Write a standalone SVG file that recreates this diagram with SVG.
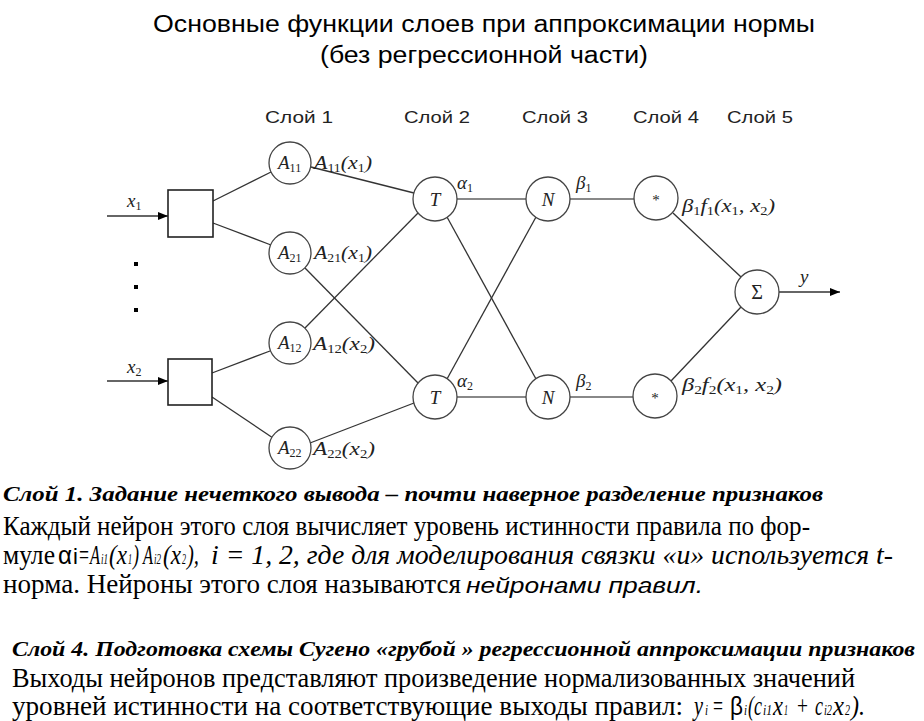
<svg xmlns="http://www.w3.org/2000/svg" width="924" height="721" viewBox="0 0 924 721">
<defs>
<marker id="arr" viewBox="0 0 10 10" refX="10" refY="5" markerWidth="10" markerHeight="10" markerUnits="userSpaceOnUse" orient="auto">
<path d="M0,1 L10,5 L0,9 z" fill="#000"/>
</marker>
</defs>
<style>
.title{font-family:"Liberation Sans",Arial,sans-serif;font-size:23px;fill:#000}
.layer{font-family:"Liberation Sans",Arial,sans-serif;font-size:17px;fill:#222}
.math{font-family:"Liberation Serif","Times New Roman",serif;font-style:italic;font-size:19px;fill:#222}
.sub{font-size:12px;font-style:normal}
.node circle{fill:#fff;stroke:#444;stroke-width:1.3}
.node rect{fill:#fff;stroke:#222;stroke-width:1.6}
.edge{stroke:#333;stroke-width:1.3;fill:none}
.hedge{stroke:#888;stroke-width:2.2;fill:none}
.reg{font-family:"Liberation Serif","Times New Roman",serif;font-size:27px;fill:#000}
.ital{font-family:"Liberation Serif","Times New Roman",serif;font-style:italic;font-size:27px;fill:#000}
.small{font-family:"Liberation Serif","Times New Roman",serif;font-style:italic;font-size:14px;fill:#000}
.bi{font-family:"Liberation Serif","Times New Roman",serif;font-style:italic;font-weight:bold;font-size:22px;fill:#000}
.gr{font-family:"Liberation Sans",Arial,sans-serif;font-size:26px;fill:#000}
.gri{font-family:"Liberation Sans",Arial,sans-serif;font-style:italic;font-size:22px;fill:#000}
</style>
<rect width="924" height="721" fill="#fff"/>

<g id="title">
<text class="title" x="153" y="32" textLength="662" lengthAdjust="spacingAndGlyphs">Основные функции слоев при аппроксимации нормы</text>
<text class="title" x="320" y="63" textLength="328" lengthAdjust="spacingAndGlyphs">(без регрессионной части)</text>
</g>

<g id="layer-labels">
<text class="layer" x="265" y="123" textLength="68" lengthAdjust="spacingAndGlyphs">Слой 1</text>
<text class="layer" x="404" y="123" textLength="66" lengthAdjust="spacingAndGlyphs">Слой 2</text>
<text class="layer" x="522" y="123" textLength="66" lengthAdjust="spacingAndGlyphs">Слой 3</text>
<text class="layer" x="633" y="123" textLength="66" lengthAdjust="spacingAndGlyphs">Слой 4</text>
<text class="layer" x="727" y="123" textLength="66" lengthAdjust="spacingAndGlyphs">Слой 5</text>
</g>

<g id="connectors">
<line class="edge" x1="107" y1="216" x2="168" y2="216" marker-end="url(#arr)"/>
<line class="edge" x1="107" y1="381" x2="168" y2="381" marker-end="url(#arr)"/>
<line class="edge" x1="213" y1="201" x2="271" y2="172"/>
<line class="edge" x1="213" y1="223" x2="271" y2="245"/>
<line class="edge" x1="212" y1="373" x2="270" y2="351"/>
<line class="edge" x1="212" y1="397" x2="273" y2="438"/>
<line class="edge" x1="311" y1="167" x2="414" y2="193"/>
<line class="edge" x1="305" y1="268" x2="418" y2="383"/>
<line class="edge" x1="305" y1="328" x2="418" y2="213"/>
<line class="edge" x1="310" y1="443" x2="414" y2="403"/>
<line class="hedge" x1="457" y1="199" x2="526" y2="199"/>
<line class="hedge" x1="457" y1="397" x2="526" y2="397"/>
<line class="edge" x1="447" y1="217" x2="536" y2="379"/>
<line class="edge" x1="447" y1="379" x2="536" y2="217"/>
<line class="hedge" x1="570" y1="199" x2="634" y2="199"/>
<line class="hedge" x1="570" y1="397" x2="633" y2="397"/>
<line class="edge" x1="673" y1="213" x2="741" y2="277"/>
<line class="edge" x1="671" y1="381" x2="741" y2="307"/>
<line class="edge" x1="779" y1="292" x2="840" y2="292" marker-end="url(#arr)"/>
</g>

<g id="edge-labels">
<text class="math" x="127" y="207">x<tspan class="sub" dy="3">1</tspan></text>
<text class="math" x="127" y="373">x<tspan class="sub" dy="3">2</tspan></text>
<text class="math" x="314" y="169" textLength="58" lengthAdjust="spacingAndGlyphs">A<tspan class="sub" dy="3">11</tspan><tspan dy="-3">(x</tspan><tspan class="sub" dy="3">1</tspan><tspan dy="-3">)</tspan></text>
<text class="math" x="314" y="259" textLength="58" lengthAdjust="spacingAndGlyphs">A<tspan class="sub" dy="3">21</tspan><tspan dy="-3">(x</tspan><tspan class="sub" dy="3">1</tspan><tspan dy="-3">)</tspan></text>
<text class="math" x="313" y="350" textLength="62" lengthAdjust="spacingAndGlyphs">A<tspan class="sub" dy="3">12</tspan><tspan dy="-3">(x</tspan><tspan class="sub" dy="3">2</tspan><tspan dy="-3">)</tspan></text>
<text class="math" x="313" y="455" textLength="62" lengthAdjust="spacingAndGlyphs">A<tspan class="sub" dy="3">22</tspan><tspan dy="-3">(x</tspan><tspan class="sub" dy="3">2</tspan><tspan dy="-3">)</tspan></text>
<text class="math" x="457" y="189">α<tspan class="sub" dy="3">1</tspan></text>
<text class="math" x="457" y="387">α<tspan class="sub" dy="3">2</tspan></text>
<text class="math" x="576" y="189">β<tspan class="sub" dy="3">1</tspan></text>
<text class="math" x="576" y="387">β<tspan class="sub" dy="3">2</tspan></text>
<text class="math" x="682" y="212" textLength="93" lengthAdjust="spacingAndGlyphs">β<tspan class="sub" dy="3">1</tspan><tspan dy="-3">f</tspan><tspan class="sub" dy="3">1</tspan><tspan dy="-3">(x</tspan><tspan class="sub" dy="3">1</tspan><tspan dy="-3">, x</tspan><tspan class="sub" dy="3">2</tspan><tspan dy="-3">)</tspan></text>
<text class="math" x="682" y="391" textLength="100" lengthAdjust="spacingAndGlyphs">β<tspan class="sub" dy="3">2</tspan><tspan dy="-3">f</tspan><tspan class="sub" dy="3">2</tspan><tspan dy="-3">(x</tspan><tspan class="sub" dy="3">1</tspan><tspan dy="-3">, x</tspan><tspan class="sub" dy="3">2</tspan><tspan dy="-3">)</tspan></text>
<text class="math" x="800" y="283">y</text>
</g>

<g id="dots" fill="#000">
<rect x="134" y="262" width="4" height="4"/>
<rect x="134" y="285" width="4" height="4"/>
<rect x="134" y="308" width="4" height="4"/>
</g>

<g id="in1" class="node"><rect x="168" y="190" width="45" height="47"/></g>
<g id="in2" class="node"><rect x="168" y="359" width="44" height="46"/></g>

<g id="A11" class="node"><circle cx="290" cy="163" r="21"/><text class="math" x="278" y="169">A<tspan class="sub" dy="3">11</tspan></text></g>
<g id="A21" class="node"><circle cx="290" cy="253" r="21"/><text class="math" x="278" y="259">A<tspan class="sub" dy="3">21</tspan></text></g>
<g id="A12" class="node"><circle cx="290" cy="343" r="21"/><text class="math" x="278" y="349">A<tspan class="sub" dy="3">12</tspan></text></g>
<g id="A22" class="node"><circle cx="290" cy="448" r="21"/><text class="math" x="278" y="454">A<tspan class="sub" dy="3">22</tspan></text></g>

<g id="T1" class="node"><circle cx="435" cy="199" r="22"/><text class="math" x="435" y="206" text-anchor="middle" font-size="21">T</text></g>
<g id="T2" class="node"><circle cx="435" cy="397" r="22"/><text class="math" x="435" y="404" text-anchor="middle" font-size="21">T</text></g>
<g id="N1" class="node"><circle cx="548" cy="199" r="22"/><text class="math" x="548" y="206" text-anchor="middle" font-size="21">N</text></g>
<g id="N2" class="node"><circle cx="548" cy="397" r="22"/><text class="math" x="548" y="404" text-anchor="middle" font-size="21">N</text></g>
<g id="P1" class="node"><circle cx="656" cy="198" r="22"/><text class="math" x="656" y="205" text-anchor="middle" style="font-style:normal;font-size:15px">*</text></g>
<g id="P2" class="node"><circle cx="655" cy="396" r="22"/><text class="math" x="655" y="403" text-anchor="middle" style="font-style:normal;font-size:15px">*</text></g>
<g id="S" class="node"><circle cx="757" cy="292" r="22"/><text class="math" x="757" y="299" text-anchor="middle" style="font-style:normal;font-size:20px">Σ</text></g>

<g id="text1">
<text class="bi" x="3" y="501" textLength="820" lengthAdjust="spacingAndGlyphs">Слой 1. Задание нечеткого вывода – почти наверное  разделение признаков</text>
<text class="reg" x="3" y="535" textLength="807" lengthAdjust="spacingAndGlyphs">Каждый нейрон этого слоя вычисляет уровень истинности правила по фор-</text>
<text class="reg" x="3" y="564" textLength="52" lengthAdjust="spacingAndGlyphs">муле</text>
<text class="gr" x="58" y="564" font-size="30" textLength="14" lengthAdjust="spacingAndGlyphs">α</text>
<text class="gri" x="73" y="564" font-size="11" style="font-style:normal">i</text>
<text class="reg" x="79" y="564" textLength="10" lengthAdjust="spacingAndGlyphs">=</text>
<text class="ital" x="90" y="564" textLength="10" lengthAdjust="spacingAndGlyphs">A</text>
<text class="small" x="101" y="564" textLength="7" lengthAdjust="spacingAndGlyphs">i1</text>
<text class="ital" x="109" y="564" textLength="18" lengthAdjust="spacingAndGlyphs">(x</text>
<text class="small" x="128" y="564" textLength="4" lengthAdjust="spacingAndGlyphs">1</text>
<text class="ital" x="133" y="564" textLength="6" lengthAdjust="spacingAndGlyphs">)</text>
<text class="ital" x="143" y="564" textLength="10" lengthAdjust="spacingAndGlyphs">A</text>
<text class="small" x="154" y="564" textLength="7" lengthAdjust="spacingAndGlyphs">i2</text>
<text class="ital" x="163" y="564" textLength="18" lengthAdjust="spacingAndGlyphs">(x</text>
<text class="small" x="182" y="564" textLength="4" lengthAdjust="spacingAndGlyphs">2</text>
<text class="ital" x="187" y="564" textLength="12" lengthAdjust="spacingAndGlyphs">),</text>
<text class="ital" x="211" y="564" textLength="682" lengthAdjust="spacingAndGlyphs">i = 1, 2, где для моделирования связки «и» используется t-</text>
<text class="reg" x="3" y="593" textLength="458" lengthAdjust="spacingAndGlyphs">норма. Нейроны этого слоя называются</text>
<text class="gri" x="466" y="593" textLength="237" lengthAdjust="spacingAndGlyphs">нейронами  правил.</text>
</g>

<g id="text4">
<text class="bi" x="12" y="656" textLength="903" lengthAdjust="spacingAndGlyphs">Слой 4. Подготовка схемы Сугено  «грубой » регрессионной аппроксимации признаков</text>
<text class="reg" x="12" y="687" textLength="843" lengthAdjust="spacingAndGlyphs">Выходы нейронов представляют произведение нормализованных значений</text>
<text class="reg" x="12" y="715" textLength="671" lengthAdjust="spacingAndGlyphs">уровней истинности на соответствующие выходы правил:</text>
<text class="ital" x="694" y="715" textLength="9" lengthAdjust="spacingAndGlyphs">y</text>
<text class="small" x="705" y="715" font-size="11" textLength="3" lengthAdjust="spacingAndGlyphs">i</text>
<text class="reg" x="713" y="715" textLength="10" lengthAdjust="spacingAndGlyphs">=</text>
<text class="gr" x="730" y="715" font-size="24" textLength="13" lengthAdjust="spacingAndGlyphs">β</text>
<text class="small" x="744" y="715" font-size="11" textLength="3" lengthAdjust="spacingAndGlyphs">i</text>
<text class="ital" x="748" y="715" textLength="14" lengthAdjust="spacingAndGlyphs">(c</text>
<text class="small" x="763" y="715" textLength="9" lengthAdjust="spacingAndGlyphs">i1</text>
<text class="ital" x="773" y="715" textLength="10" lengthAdjust="spacingAndGlyphs">x</text>
<text class="small" x="784" y="715" textLength="4" lengthAdjust="spacingAndGlyphs">1</text>
<text class="reg" x="797" y="715" textLength="11" lengthAdjust="spacingAndGlyphs">+</text>
<text class="ital" x="815" y="715" textLength="8" lengthAdjust="spacingAndGlyphs">c</text>
<text class="small" x="824" y="715" textLength="8" lengthAdjust="spacingAndGlyphs">i2</text>
<text class="ital" x="833" y="715" textLength="11" lengthAdjust="spacingAndGlyphs">x</text>
<text class="small" x="845" y="715" textLength="5" lengthAdjust="spacingAndGlyphs">2</text>
<text class="ital" x="851" y="715" textLength="14" lengthAdjust="spacingAndGlyphs">).</text>
</g>
</svg>
